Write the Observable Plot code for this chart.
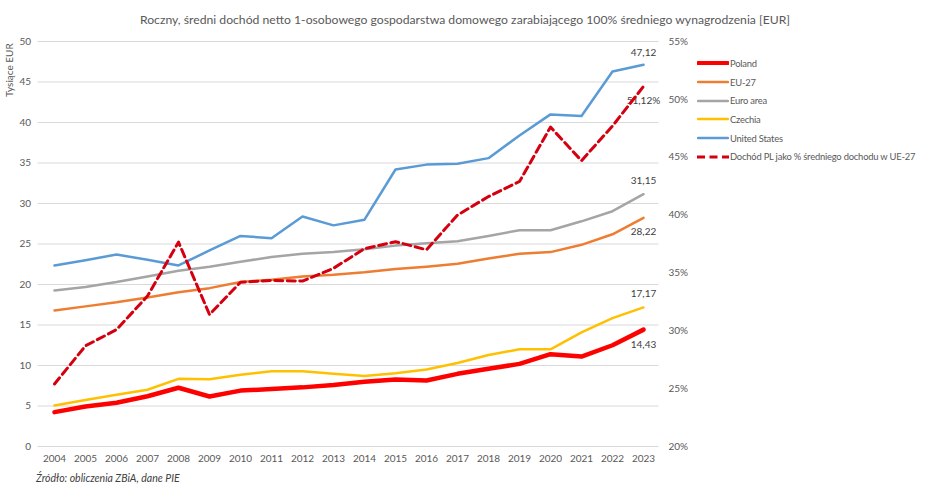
<!DOCTYPE html>
<html>
<head>
<meta charset="utf-8">
<script src="https://cdn.jsdelivr.net/npm/d3@7"></script>
<script src="https://cdn.jsdelivr.net/npm/@observablehq/plot@0.6"></script>
<style>
  html, body { margin: 0; padding: 0; background: #fff; }
  body { width: 948px; height: 499px; overflow: hidden; font-family: Lato, "Liberation Sans", sans-serif; }
  #wrap { position: relative; width: 948px; height: 499px; }
  #chart { position: absolute; left: 0; top: 0; }
  #title { position: absolute; left: 0; width: 930px; top: 12px; text-align: center; font-size: 12.2px; color: #595959; white-space: nowrap; }
  #ylab { position: absolute; left: 9px; top: 45px; transform-origin: 0 0; transform: translate(-6px, 52px) rotate(-90deg); font-size: 10px; color: #595959; white-space: nowrap; }
  #caption { position: absolute; left: 36px; top: 472px; font-size: 10.5px; font-style: italic; color: #404040; white-space: nowrap; }
  #legend { position: absolute; left: 697px; top: 54px; font-size: 9.4px; letter-spacing: -0.2px; color: #595959; }
  .row { height: 18.7px; display: flex; align-items: center; white-space: nowrap; }
  .row svg { margin-right: 1px; }
</style>
</head>
<body>
<div id="wrap">
  <div id="chart"></div>
  <div id="title">Roczny, średni dochód netto 1-osobowego gospodarstwa domowego zarabiającego 100% średniego wynagrodzenia [EUR]</div>
  <div id="ylab">Tysiące EUR</div>
  <div id="legend"></div>
  <div id="caption">Źródło: obliczenia ZBiA, dane PIE</div>
</div>
<script>
const years = [2004, 2005, 2006, 2007, 2008, 2009, 2010, 2011, 2012, 2013, 2014, 2015, 2016, 2017, 2018, 2019, 2020, 2021, 2022, 2023];
const poland = [4.24, 4.94, 5.40, 6.20, 7.25, 6.17, 6.90, 7.10, 7.30, 7.60, 8.00, 8.27, 8.15, 8.97, 9.60, 10.20, 11.40, 11.10, 12.50, 14.43];
const eu27 = [16.80, 17.30, 17.80, 18.40, 19.05, 19.55, 20.30, 20.60, 21.00, 21.20, 21.50, 21.90, 22.20, 22.55, 23.20, 23.80, 24.00, 24.90, 26.20, 28.22];
const euroArea = [19.26, 19.70, 20.30, 21.00, 21.70, 22.20, 22.80, 23.40, 23.80, 24.00, 24.35, 24.80, 25.10, 25.35, 26.00, 26.70, 26.70, 27.80, 29.05, 31.15];
const czechia = [5.06, 5.75, 6.40, 7.00, 8.35, 8.30, 8.85, 9.30, 9.30, 8.97, 8.70, 9.05, 9.50, 10.30, 11.30, 12.00, 12.00, 14.10, 15.85, 17.17];
const unitedStates = [22.35, 23.00, 23.70, 23.05, 22.35, 24.20, 26.00, 25.70, 28.40, 27.30, 28.00, 34.20, 34.80, 34.90, 35.60, 38.40, 41.00, 40.80, 46.30, 47.12];
const plShare = [25.4, 28.7, 30.1, 33.0, 37.66, 31.4, 34.2, 34.35, 34.3, 35.4, 37.1, 37.7, 37.0, 40.0, 41.6, 42.9, 47.6, 44.7, 47.7, 51.12];
const leftTicks = [0, 5, 10, 15, 20, 25, 30, 35, 40, 45, 50];
const rightTicks = [20, 25, 30, 35, 40, 45, 50, 55];

const series = [
  {name: "Poland", values: poland, color: "#ff0000", width: 4.5, dash: null},
  {name: "EU-27", values: eu27, color: "#ed7d31", width: 2.5, dash: null},
  {name: "Euro area", values: euroArea, color: "#a5a5a5", width: 2.5, dash: null},
  {name: "Czechia", values: czechia, color: "#ffc000", width: 2.5, dash: null},
  {name: "United States", values: unitedStates, color: "#5b9bd5", width: 2.5, dash: null}
];
const shareSeries = {name: "Dochód PL jako % średniego dochodu w UE-27", values: plShare, color: "#d40010", width: 3, dash: "8,4.5"};

// secondary axis (20%..55%) mapped onto primary axis (0..50)
const toLeft = p => (p - 20) * 50 / 35;
const fromLeft = v => v * 35 / 50 + 20;
const fmt = v => v.toFixed(2).replace(".", ",");

const rows = s => years.map((y, i) => ({year: y, value: s.values[i]}));
const shareRows = years.map((y, i) => ({year: y, value: toLeft(plShare[i])}));

const last = arr => arr[arr.length - 1];
const lastYear = last(years);

const labels = [
  {v: last(unitedStates), t: fmt(last(unitedStates)), dy: -12},
  {v: last(euroArea), t: fmt(last(euroArea)), dy: -13},
  {v: last(eu27), t: fmt(last(eu27)), dy: 14},
  {v: last(czechia), t: fmt(last(czechia)), dy: -14},
  {v: last(poland), t: fmt(last(poland)), dy: 15},
  {v: toLeft(last(plShare)), t: fmt(last(plShare)) + "%", dy: 14}
];

const fontFamily = "Lato, 'Liberation Sans', sans-serif";

const chart = Plot.plot({
  width: 948,
  height: 499,
  marginLeft: 37.5,
  marginRight: 289.5,
  marginTop: 41,
  marginBottom: 53,
  style: {fontFamily, fontSize: "10px", color: "#595959", background: "transparent", overflow: "visible"},
  x: {type: "point", domain: years, padding: 0.5},
  y: {domain: [0, 50]},
  marks: [
    Plot.ruleY(leftTicks, {stroke: "#d9d9d9", strokeWidth: 1}),
    Plot.axisX(years, {tickSize: 0, tickPadding: 8, tickFormat: d => String(d), label: null, fill: "#595959"}),
    Plot.axisY(leftTicks, {anchor: "left", tickSize: 0, tickPadding: 7, label: null, fill: "#595959"}),
    Plot.axisY(rightTicks.map(toLeft), {anchor: "right", tickSize: 0, tickPadding: 9.5, label: null, fill: "#595959",
      tickFormat: v => Math.round(fromLeft(v)) + "%"}),
    ...series.map(s => Plot.line(rows(s), {x: "year", y: "value", stroke: s.color, strokeWidth: s.width,
      strokeLinejoin: "round", strokeLinecap: "round"})),
    ...labels.map(l => Plot.text([l], {x: () => lastYear, y: "v", text: "t", dy: l.dy, fill: "#404040", fontSize: 10})),
    Plot.line(shareRows, {x: "year", y: "value", stroke: shareSeries.color, strokeWidth: shareSeries.width,
      strokeDasharray: shareSeries.dash, strokeLinejoin: "round"})
  ]
});
document.getElementById("chart").appendChild(chart);

const legend = document.getElementById("legend");
[...series, shareSeries].forEach(s => {
  const row = document.createElement("div");
  row.className = "row";
  const dash = s.dash ? `stroke-dasharray="8,4.5"` : "";
  row.innerHTML = `<svg width="32" height="8"><line x1="${s.dash ? 0 : 1}" x2="${s.dash ? 32 : 31}" y1="4" y2="4" stroke="${s.color}" stroke-width="${Math.min(s.width, 4)}" ${dash} stroke-linecap="${s.dash ? "butt" : "round"}"/></svg><span>${s.name}</span>`;
  legend.appendChild(row);
});
</script>
</body>
</html>
